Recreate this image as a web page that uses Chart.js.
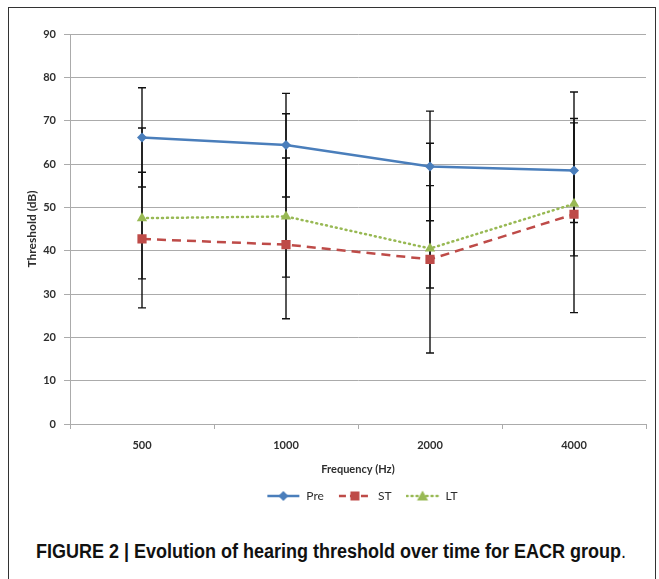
<!DOCTYPE html>
<html>
<head>
<meta charset="utf-8">
<script src="https://cdn.jsdelivr.net/npm/chart.js@4/dist/chart.umd.min.js"></script>
<style>
  html, body { margin: 0; padding: 0; background: #fff; }
  body { width: 659px; height: 579px; position: relative; overflow: hidden; }
  .frame { position: absolute; left: 8px; top: 7px; width: 646px; height: 600px;
           border: 1px solid #333; border-bottom: none; }
  .wrap { position: absolute; left: 0; top: 0; width: 659px; height: 520px; }
  .caption { position: absolute; left: 36px; top: 539px; white-space: nowrap;
             font: bold 20px "Liberation Sans Narrow", "Liberation Sans", sans-serif;
             line-height: 24px; color: #111;
             transform: scaleX(0.9); transform-origin: 0 0; }
  .caption span { font-weight: normal; }
</style>
</head>
<body>
<div class="frame"></div>
<div class="wrap"><canvas id="chart"></canvas></div>
<div class="caption">FIGURE 2 | Evolution of hearing threshold over time for EACR group<span>.</span></div>

<script>
// ── Data ──────────────────────────────────────────────────
const freqs   = ['500', '1000', '2000', '4000'];

const preMean = [66.1, 64.4, 59.4, 58.5];
const stMean  = [42.7, 41.4, 38.0, 48.4];
const ltMean  = [47.5, 47.9, 40.5, 50.8];

// error bar ends (low / high)
const preLow  = [54.7, 52.4, 46.9, 46.5];
const preHigh = [77.6, 76.3, 72.2, 70.5];
const stLow   = [33.5, 33.9, 31.4, 38.8];
const stHigh  = [58.1, 61.4, 55.0, 69.5];
const ltLow   = [26.8, 24.3, 16.4, 25.7];
const ltHigh  = [68.3, 71.6, 64.8, 76.6];

const yTicks  = [0, 10, 20, 30, 40, 50, 60, 70, 80, 90];

// ── Colours / styles ──────────────────────────────────────
const BLUE  = '#4A7EBB';
const RED   = '#BE4B48';
const GREEN = '#98B954';
const GRID  = '#ababab';
const TEXT  = '#2e2e2e';
const FONT  = "Lato, 'Open Sans', sans-serif";

// small legend swatch: line + marker, like the spreadsheet legend
function swatch(color, dash, marker) {
  const c = document.createElement('canvas');
  c.width = 34; c.height = 12;
  const g = c.getContext('2d');
  g.strokeStyle = color; g.lineWidth = 2.5;
  g.lineCap = dash && dash[0] < 3 ? 'round' : 'butt';
  g.setLineDash(dash || []);
  g.beginPath(); g.moveTo(1, 6); g.lineTo(33, 6); g.stroke();
  g.setLineDash([]);
  g.fillStyle = color;
  g.beginPath();
  if (marker === 'diamond') {
    g.moveTo(17, 1); g.lineTo(22, 6); g.lineTo(17, 11); g.lineTo(12, 6);
  } else if (marker === 'square') {
    g.rect(12.5, 1.5, 9, 9);
  } else {
    g.moveTo(17, 0.5); g.lineTo(22.5, 10.5); g.lineTo(11.5, 10.5);
  }
  g.closePath(); g.fill();
  return c;
}

const legendIcons = [
  swatch(BLUE, null, 'diamond'),
  swatch(RED, [7, 4], 'square'),
  swatch(GREEN, [1, 4], 'triangle'),
];

// ── Error bars drawn through the chart scales ─────────────
const errorBars = {
  id: 'errorBars',
  beforeDatasetsDraw(chart) {
    const { ctx, scales: { x, y } } = chart;
    ctx.save();
    ctx.strokeStyle = '#111';
    ctx.lineWidth = 1.4;
    chart.data.datasets.forEach(ds => {
      ds.errLow.forEach((lo, i) => {
        const px  = x.getPixelForValue(i);
        const yLo = y.getPixelForValue(lo);
        const yHi = y.getPixelForValue(ds.errHigh[i]);
        ctx.beginPath();
        ctx.moveTo(px, yLo); ctx.lineTo(px, yHi);
        ctx.moveTo(px - 4, yLo); ctx.lineTo(px + 4, yLo);
        ctx.moveTo(px - 4, yHi); ctx.lineTo(px + 4, yHi);
        ctx.stroke();
      });
    });
    ctx.restore();
  },
};

// centre the legend under the plot area rather than the whole canvas
const legendShift = {
  id: 'legendShift',
  afterLayout(chart) {
    const lg = chart.legend;
    if (!lg) return;
    lg.left += 39; lg.right += 39;
  },
};

new Chart(document.getElementById('chart'), {
  type: 'line',
  data: {
    labels: freqs,
    datasets: [
      {
        label: 'Pre', data: preMean, errLow: preLow, errHigh: preHigh,
        borderColor: BLUE, backgroundColor: BLUE, borderWidth: 2.5,
        pointStyle: 'rectRot', pointRadius: 5, pointBorderWidth: 0, tension: 0,
      },
      {
        label: 'ST', data: stMean, errLow: stLow, errHigh: stHigh,
        borderColor: RED, backgroundColor: RED, borderWidth: 2.5, borderDash: [9, 6],
        pointStyle: 'rect', pointRadius: 6.5, pointBorderWidth: 0, tension: 0,
      },
      {
        label: 'LT', data: ltMean, errLow: ltLow, errHigh: ltHigh,
        borderColor: GREEN, backgroundColor: GREEN, borderWidth: 2.5, borderDash: [1, 4],
        borderCapStyle: 'round',
        pointStyle: 'triangle', pointRadius: 6, pointBorderWidth: 0, tension: 0,
      },
    ],
  },
  options: {
    responsive: true,
    maintainAspectRatio: false,
    animation: false,
    layout: { padding: { top: 34, right: 13, bottom: 8, left: 0 } },
    plugins: {
      legend: {
        position: 'bottom',
        labels: {
          usePointStyle: true, pointStyleWidth: 34, padding: 14,
          color: TEXT, font: { family: FONT, size: 12 },
          generateLabels: chart => chart.data.datasets.map((ds, i) => ({
            text: ds.label, pointStyle: legendIcons[i], datasetIndex: i,
            fillStyle: ds.borderColor, strokeStyle: ds.borderColor, lineWidth: 0,
            hidden: false, fontColor: TEXT,
          })),
        },
      },
      tooltip: { enabled: false },
    },
    scales: {
      x: {
        offset: true,
        grid: { offset: true, drawOnChartArea: false, drawTicks: true, tickLength: 5, color: GRID },
        border: { color: GRID, width: 1 },
        ticks: { color: TEXT, padding: 10, font: { family: FONT, size: 11, weight: 'bold' } },
        title: {
          display: true, text: 'Frequency (Hz)', color: TEXT,
          font: { family: FONT, size: 11, weight: 'bold' }, padding: { top: 0, bottom: 0 },
        },
        afterFit(scale) { scale.height = 52; },
      },
      y: {
        min: 0, max: 90,
        afterBuildTicks(scale) { scale.ticks = yTicks.map(v => ({ value: v })); },
        grid: { color: GRID, lineWidth: 1, tickLength: 6 },
        border: { color: GRID, width: 1 },
        ticks: { color: TEXT, padding: 8, font: { family: FONT, size: 11, weight: 'bold' } },
        title: {
          display: true, text: 'Threshold (dB)', color: TEXT,
          font: { family: FONT, size: 12, weight: 'bold' }, padding: { top: 25, bottom: 0 },
        },
        afterFit(scale) { scale.width = 70; },
      },
    },
  },
  plugins: [errorBars, legendShift],
});
</script>
</body>
</html>
